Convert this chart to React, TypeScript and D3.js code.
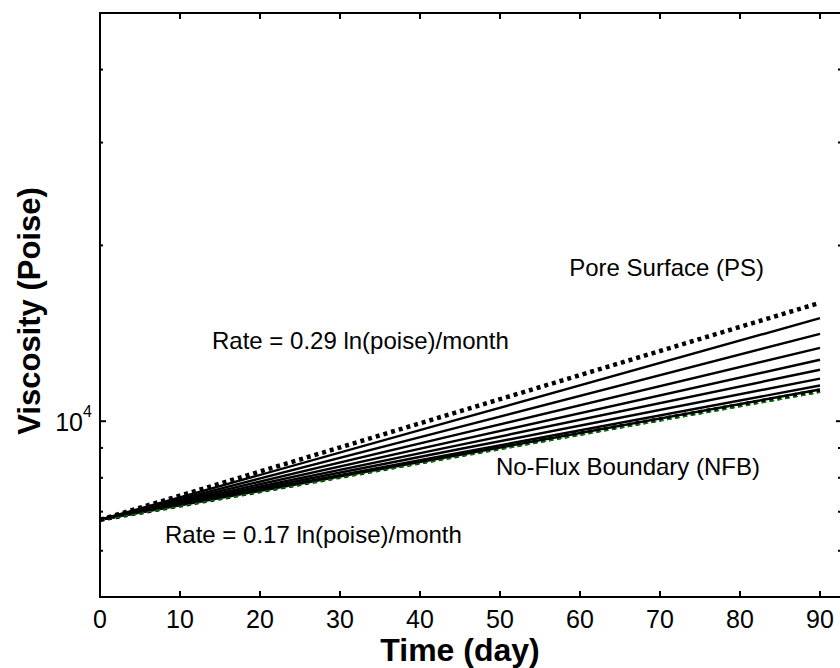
import React from 'react';
import * as d3 from 'd3';

// ---- data ----
const days = [0, 45, 90];
const poreSurface = [6780, 10400, 15950];
const innerLayers = [
  [6780, 10090, 15010],
  [6780, 9780, 14110],
  [6780, 9510, 13350],
  [6780, 9290, 12740],
  [6780, 9110, 12250],
  [6780, 8960, 11830],
  [6780, 8830, 11510],
  [6780, 8760, 11330],
];
const noFluxBoundary = [6780, 8745, 11280];
const greenRef = [6760, 8700, 11200];

const xTicks = [0, 10, 20, 30, 40, 50, 60, 70, 80, 90];
const yMajorTicks = [10000];
const yMinorTicks = [6000, 7000, 8000, 9000, 20000, 30000, 40000];

const xLabel = 'Time (day)';
const yLabel = 'Viscosity (Poise)';
const labelPS = 'Pore Surface (PS)';
const labelNFB = 'No-Flux Boundary (NFB)';
const rateHigh = 'Rate = 0.29 ln(poise)/month';
const rateLow = 'Rate = 0.17 ln(poise)/month';

const FONT = '"Liberation Sans", Arial, Helvetica, sans-serif';

export default function App() {
  const W = 840;
  const H = 668;
  const left = 100;
  const right = 840;
  const top = 13;
  const bottom = 597;

  const x = d3.scaleLinear().domain([0, 90]).range([left, 820]);
  const y = d3.scaleLog().domain([5000, 50000]).range([bottom, top]);

  const line = d3
    .line<number>()
    .x((_, i) => x(days[i]))
    .y((d) => y(d));

  const majorLen = 6;
  const minorLen = 3;

  return (
    <svg
      width={W}
      height={H}
      style={{ position: 'absolute', left: 0, top: 0, background: '#fff' }}
      fontFamily={FONT}
    >
      <rect x={0} y={0} width={W} height={H} fill="#fff" />

      {/* series */}
      {innerLayers.map((s, i) => (
        <path key={'in' + i} d={line(s) || ''} fill="none" stroke="#000" strokeWidth={2.4} />
      ))}
      <path d={line(noFluxBoundary) || ''} fill="none" stroke="#000" strokeWidth={4.5} strokeDasharray="4 4" />
      <path d={line(greenRef) || ''} fill="none" stroke="#008000" strokeWidth={1.2} strokeDasharray="5 3" />
      <path d={line(poreSurface) || ''} fill="none" stroke="#000" strokeWidth={4.5} strokeDasharray="4 4" />

      {/* axes box (right edge lies outside the picture) */}
      <line x1={left - 1} y1={top} x2={right} y2={top} stroke="#000" strokeWidth={2} />
      <line x1={left - 1} y1={bottom} x2={right} y2={bottom} stroke="#000" strokeWidth={2} />
      <line x1={left} y1={top - 1} x2={left} y2={bottom + 1} stroke="#000" strokeWidth={2} />

      {/* x ticks */}
      {xTicks.map((t) => (
        <g key={'xt' + t}>
          <line x1={x(t)} x2={x(t)} y1={bottom} y2={bottom - majorLen} stroke="#000" strokeWidth={2} />
          <line x1={x(t)} x2={x(t)} y1={top} y2={top + majorLen} stroke="#000" strokeWidth={2} />
          <text x={x(t)} y={628} fontSize={25} textAnchor="middle" fill="#000">
            {t}
          </text>
        </g>
      ))}

      {/* y ticks */}
      {yMajorTicks.map((t) => (
        <g key={'ym' + t}>
          <line x1={left} x2={left + majorLen} y1={y(t)} y2={y(t)} stroke="#000" strokeWidth={2} />
          <line x1={836} x2={840} y1={y(t)} y2={y(t)} stroke="#000" strokeWidth={2} />
          <text x={83} y={y(t) + 10} fontSize={25} textAnchor="end" fill="#000">
            10
          </text>
          <text x={83} y={y(t) - 4} fontSize={16} textAnchor="start" fill="#000">
            {Math.round(Math.log10(t))}
          </text>
        </g>
      ))}
      {yMinorTicks.map((t) => (
        <g key={'yn' + t}>
          <line x1={left} x2={left + minorLen} y1={y(t)} y2={y(t)} stroke="#000" strokeWidth={2} />
          <line x1={838} x2={840} y1={y(t)} y2={y(t)} stroke="#000" strokeWidth={2} />
        </g>
      ))}

      {/* axis labels */}
      <text x={460} y={661} fontSize={32} fontWeight="bold" textAnchor="middle" fill="#000">
        {xLabel}
      </text>
      <text
        transform={`translate(40, 311) rotate(-90)`}
        fontSize={31}
        fontWeight="bold"
        textAnchor="middle"
        fill="#000"
      >
        {yLabel}
      </text>

      {/* annotations */}
      <text x={764} y={276} fontSize={24} textAnchor="end" fill="#000">
        {labelPS}
      </text>
      <text x={212} y={349} fontSize={24} fill="#000">
        {rateHigh}
      </text>
      <text x={760} y={475} fontSize={24} textAnchor="end" fill="#000">
        {labelNFB}
      </text>
      <text x={165} y={543} fontSize={24} fill="#000">
        {rateLow}
      </text>
    </svg>
  );
}
